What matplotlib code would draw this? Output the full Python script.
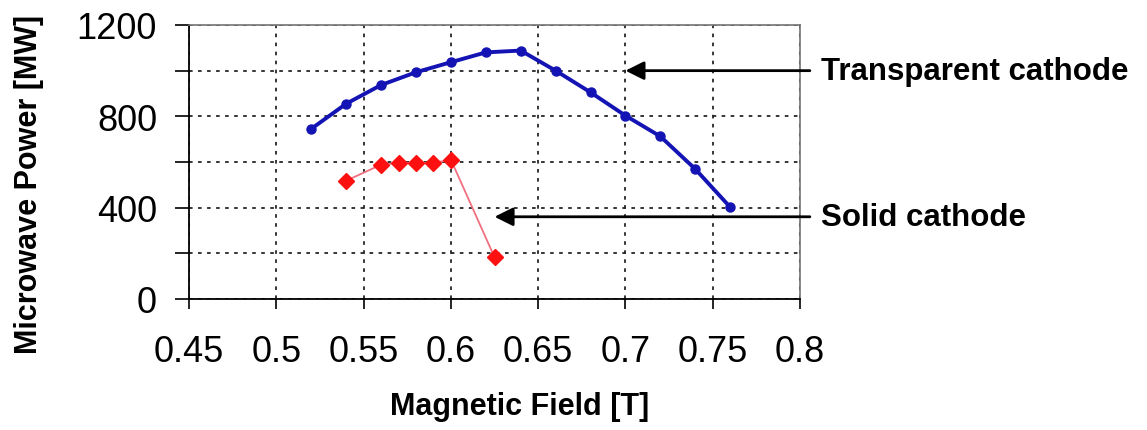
import matplotlib
matplotlib.use("Agg")
from matplotlib import pyplot as plt
from matplotlib.ticker import MultipleLocator, FuncFormatter

# Transparent cathode
field_tc = [0.52, 0.54, 0.56, 0.58, 0.60, 0.62, 0.64, 0.66, 0.68, 0.70, 0.72, 0.74, 0.76]
power_tc = [745, 855, 937, 993, 1037, 1080, 1088, 1000, 905, 803, 712, 569, 402]

# Solid cathode
field_sc = [0.54, 0.56, 0.57, 0.58, 0.59, 0.60, 0.625]
power_sc = [518, 588, 596, 596, 596, 610, 183]

plt.rcParams["font.family"] = ["Liberation Sans", "DejaVu Sans"]

fig = plt.figure(figsize=(11.47, 4.31), dpi=100)
ax = fig.add_axes([0.1648, 0.304, 0.5327, 0.6357])

ax.plot(field_tc, power_tc, color="#1414b4", lw=2.8, marker="o", ms=6.5, zorder=3)
ax.plot(field_sc, power_sc, color="#f07080", lw=1.3, marker="D", ms=8,
        mfc="#ff1010", mec="#ff1010", zorder=3)

ax.set_xlim(0.45, 0.8)
ax.set_ylim(0, 1200)
ax.xaxis.set_major_locator(MultipleLocator(0.05))
ax.yaxis.set_major_locator(MultipleLocator(200))
ax.xaxis.set_major_formatter(FuncFormatter(lambda v, p: f"{v:.2f}".rstrip("0")))
ax.yaxis.set_major_formatter(FuncFormatter(lambda v, p: f"{v:.0f}" if round(v) % 400 == 0 else ""))

ax.grid(True, color="0.15", linestyle=(0, (2, 3)), lw=1.3)
ax.tick_params(axis="x", direction="out", length=7, width=1.2, pad=18, labelsize=26)
ax.tick_params(axis="y", direction="out", length=10, width=1.2, pad=13, labelsize=26)
for side in ["left", "bottom"]:
    ax.spines[side].set_color("black")
    ax.spines[side].set_linewidth(1.3)
for side in ["top", "right"]:
    ax.spines[side].set_color("0.45")
    ax.spines[side].set_linewidth(1.2)

ax.set_xlabel("Magnetic Field [T]", fontsize=22, fontweight="bold", va="center")
ax.xaxis.set_label_coords(0.5417, -0.39)
ax.set_ylabel("Microwave Power [MW]", fontsize=22, fontweight="bold", va="center")
ax.yaxis.set_label_coords(-0.262, 0.42)

arrow = dict(arrowstyle="-|>", color="black", lw=2, mutation_scale=28, shrinkA=6, shrinkB=0)
ax.annotate("Transparent cathode", xy=(0.70, 1000), xytext=(0.812, 1000),
            fontsize=22.5, fontweight="bold", va="center", ha="left",
            arrowprops=arrow, annotation_clip=False)
ax.annotate("Solid cathode", xy=(0.625, 360), xytext=(0.812, 360),
            fontsize=22.5, fontweight="bold", va="center", ha="left",
            arrowprops=arrow, annotation_clip=False)

fig.savefig("out.png", dpi=100)
